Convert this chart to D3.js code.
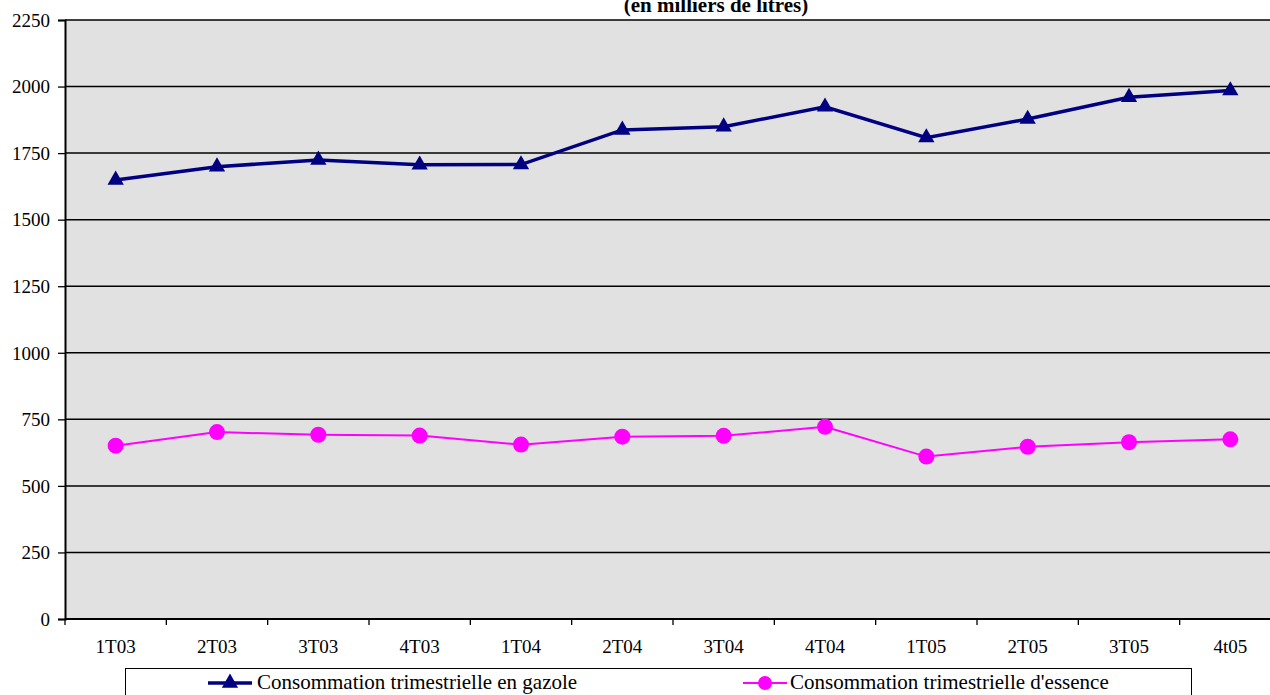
<!DOCTYPE html>
<html>
<head>
<meta charset="utf-8">
<script src="https://cdn.jsdelivr.net/npm/d3@7"></script>
<style>
  body { margin: 0; background: #fff; }
  svg { display: block; }
  text { font-family: "Liberation Serif", "Times New Roman", serif; fill: #000; }
</style>
</head>
<body>
<svg id="chart"></svg>
<script>
var categories = ["1T03", "2T03", "3T03", "4T03", "1T04", "2T04", "3T04", "4T04", "1T05", "2T05", "3T05", "4t05"];
var gazole = [1649, 1699, 1724, 1706, 1707, 1837, 1849, 1924, 1808, 1878, 1960, 1985];
var essence = [651, 702, 692, 689, 655, 685, 688, 722, 610, 647, 664, 675];
var yTicks = [0, 250, 500, 750, 1000, 1250, 1500, 1750, 2000, 2250];
var seriesNames = ["Consommation trimestrielle en gazole", "Consommation trimestrielle d'essence"];

var svgWidth = 1270, svgHeight = 695;
var plotLeft = 65, plotRight = 1281, plotTop = 20, plotBottom = 619;

var svg = d3.select("#chart").attr("width", svgWidth).attr("height", svgHeight);

var x = d3.scaleBand().domain(categories).range([plotLeft, plotRight]);
var y = d3.scaleLinear().domain([0, 2250]).range([plotBottom, plotTop]);

// plot background
svg.append("rect")
    .attr("x", plotLeft).attr("y", plotTop)
    .attr("width", plotRight - plotLeft).attr("height", plotBottom - plotTop)
    .attr("fill", "#e1e1e1");

// gridlines
svg.append("g").selectAll("line")
    .data(yTicks.slice(1))
    .enter().append("line")
    .attr("x1", plotLeft).attr("x2", plotRight)
    .attr("y1", function(d){ return y(d); })
    .attr("y2", function(d){ return y(d); })
    .attr("stroke", "#000").attr("stroke-width", 1.5);

// y axis
var yAxis = svg.append("g")
    .attr("transform", "translate(" + plotLeft + ",0)")
    .call(d3.axisLeft(y).tickValues(yTicks).tickSize(7).tickPadding(8).tickFormat(d3.format("d")));
yAxis.select(".domain").attr("stroke", "#000").attr("stroke-width", 2);
yAxis.selectAll("line").attr("stroke", "#000").attr("stroke-width", 1.3);
yAxis.selectAll("text").style("font-size", "19px").attr("dy", "0.33em");

// x axis with ticks between categories
var xAxis = svg.append("g")
    .attr("transform", "translate(0," + plotBottom + ")");
xAxis.append("line")
    .attr("x1", plotLeft).attr("x2", plotRight)
    .attr("stroke", "#000").attr("stroke-width", 2);
xAxis.selectAll(".tk")
    .data(categories)
    .enter().append("line")
    .attr("class", "tk")
    .attr("x1", function(d){ return x(d); })
    .attr("x2", function(d){ return x(d); })
    .attr("y1", 0).attr("y2", 6)
    .attr("stroke", "#000").attr("stroke-width", 1.3);
xAxis.selectAll("text")
    .data(categories)
    .enter().append("text")
    .attr("x", function(d){ return x(d) + x.bandwidth() / 2; })
    .attr("y", 34)
    .attr("text-anchor", "middle")
    .style("font-size", "19px")
    .text(function(d){ return d; });

// title (top line cut off in the original)
svg.append("text")
    .attr("x", 716).attr("y", 12)
    .attr("text-anchor", "middle")
    .style("font-size", "21px").style("font-weight", "bold")
    .text("(en milliers de litres)");

var cx = function(d, i){ return x(categories[i]) + x.bandwidth() / 2; };
var line = d3.line().x(cx).y(function(d){ return y(d); });

// gazole
svg.append("path")
    .datum(gazole)
    .attr("d", line)
    .attr("fill", "none").attr("stroke", "#000080").attr("stroke-width", 3.5);
var tri = d3.symbol().type(d3.symbolTriangle).size(115);
svg.append("g").selectAll("path")
    .data(gazole)
    .enter().append("path")
    .attr("d", tri)
    .attr("transform", function(d, i){ return "translate(" + cx(d, i) + "," + y(d) + ")"; })
    .attr("fill", "#000080");

// essence
svg.append("path")
    .datum(essence)
    .attr("d", line)
    .attr("fill", "none").attr("stroke", "#ff00ff").attr("stroke-width", 2);
svg.append("g").selectAll("circle")
    .data(essence)
    .enter().append("circle")
    .attr("cx", cx)
    .attr("cy", function(d){ return y(d); })
    .attr("r", 8)
    .attr("fill", "#ff00ff");

// legend
var legend = svg.append("g");
legend.append("rect")
    .attr("x", 125.5).attr("y", 668.5)
    .attr("width", 1066).attr("height", 40)
    .attr("fill", "#fff").attr("stroke", "#000").attr("stroke-width", 1);

var lg1 = legend.append("g").attr("transform", "translate(208,683)");
lg1.append("line").attr("x1", 0).attr("x2", 44)
    .attr("stroke", "#000080").attr("stroke-width", 3.5);
lg1.append("path").attr("d", tri).attr("transform", "translate(22,0)").attr("fill", "#000080");
lg1.append("text").attr("x", 49).attr("y", 6).style("font-size", "21px").text(seriesNames[0]);

var lg2 = legend.append("g").attr("transform", "translate(743,683)");
lg2.append("line").attr("x1", 0).attr("x2", 44)
    .attr("stroke", "#ff00ff").attr("stroke-width", 2);
lg2.append("circle").attr("cx", 22).attr("cy", 0).attr("r", 7).attr("fill", "#ff00ff");
lg2.append("text").attr("x", 47).attr("y", 6).style("font-size", "21px").text(seriesNames[1]);
</script>
</body>
</html>
